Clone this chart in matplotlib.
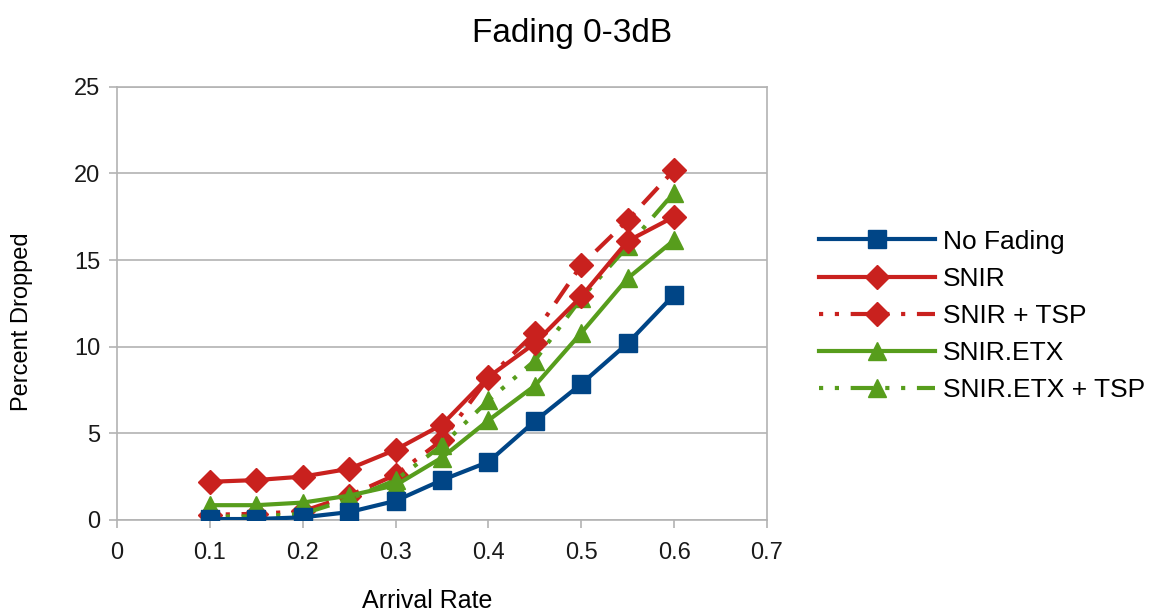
import matplotlib
matplotlib.use("Agg")
import matplotlib.pyplot as plt

plt.rcParams['font.family'] = ['Liberation Sans', 'DejaVu Sans']

arrival = [0.1, 0.15, 0.2, 0.25, 0.3, 0.35, 0.4, 0.45, 0.5, 0.55, 0.6]
no_fading = [0.05, 0.05, 0.15, 0.45, 1.1, 2.3, 3.35, 5.7, 7.85, 10.2, 13.0]
snir = [2.2, 2.3, 2.5, 2.95, 4.05, 5.5, 8.25, 10.2, 12.9, 16.1, 17.5]
snir_tsp = [0.3, 0.35, 0.5, 1.4, 2.6, 4.6, 8.2, 10.8, 14.7, 17.3, 20.2]
snir_etx = [0.85, 0.85, 1.0, 1.4, 2.0, 3.6, 5.75, 7.75, 10.8, 13.95, 16.15]
snir_etx_tsp = [0.2, 0.2, 0.35, 1.2, 2.3, 4.3, 6.9, 9.2, 12.8, 15.8, 18.9]

blue = '#004586'
red = '#c9211e'
green = '#579d1c'
# dot, dot, long dash
dotdash = (0, (1, 2.8, 1, 2.8, 5.5, 2.8))

fig = plt.figure(figsize=(11.6, 6.16), dpi=100)
ax = fig.add_axes([0.1009, 0.156, 0.5603, 0.703])

series = [
    ('No Fading', no_fading, blue, 's', '-', 6),
    ('SNIR', snir, red, 'D', '-', 4),
    ('SNIR + TSP', snir_tsp, red, 'D', dotdash, 2),
    ('SNIR.ETX', snir_etx, green, '^', '-', 5),
    ('SNIR.ETX + TSP', snir_etx_tsp, green, '^', dotdash, 3),
]
for name, vals, col, mk, ls, z in series:
    ax.plot(arrival, vals, color=col, marker=mk, linestyle=ls, lw=3,
            ms=13 if mk != 'D' else 12, label=name, zorder=z)

ax.set_xlim(0, 0.7)
ax.set_ylim(0, 25)
ax.set_xticks([0, 0.1, 0.2, 0.3, 0.4, 0.5, 0.6, 0.7])
ax.set_xticklabels(['0', '0.1', '0.2', '0.3', '0.4', '0.5', '0.6', '0.7'])
ax.set_yticks([0, 5, 10, 15, 20, 25])
ax.yaxis.grid(True, color='#b3b3b3', lw=1.2)
ax.set_axisbelow(True)
for s in ax.spines.values():
    s.set_color('#b3b3b3')
    s.set_linewidth(1.2)
ax.tick_params(colors='#b3b3b3', length=6, width=1.2, labelsize=17,
               labelcolor='#1a1a1a')
ax.tick_params(axis='x', pad=10)
ax.tick_params(axis='y', pad=6)

ax.set_xlabel('Arrival Rate', fontsize=18)
ax.set_ylabel('Percent Dropped', fontsize=17)
ax.xaxis.set_label_coords(0.477, -0.16)
ax.yaxis.set_label_coords(-0.129, 0.457)
fig.suptitle('Fading 0-3dB', fontsize=24, x=0.493, y=0.97)

ax.legend(loc='center left', bbox_to_anchor=(0.697, 0.487), bbox_transform=fig.transFigure,
          frameon=False, fontsize=19, handlelength=4.4, handletextpad=0.3,
          labelspacing=0.5, numpoints=1, borderaxespad=0)

fig.savefig('out.png', dpi=100)
